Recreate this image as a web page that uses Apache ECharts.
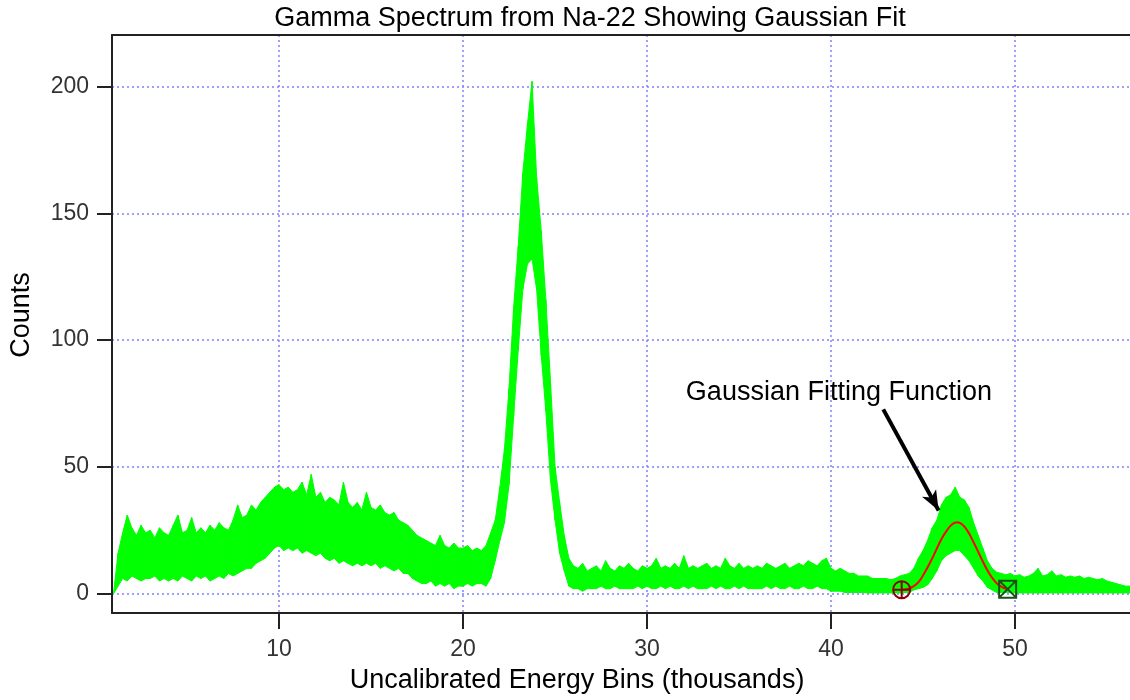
<!DOCTYPE html>
<html><head><meta charset="utf-8">
<script src="https://cdn.jsdelivr.net/npm/echarts@6/dist/echarts.min.js"></script>
<style>html,body{margin:0;padding:0;background:#fff}#c{width:1130px;height:700px}</style>
</head><body><div id="c"></div>
<script>
// ---- data ----
const binStart = 1.0;   // thousands
const binStep = 0.25;   // thousands
// upper edge of the noisy spectrum band, one value per bin
const countsHigh = [
  0,16,24,31, 26,23,27,24, 25,22,26,24, 23,27,31,24, 25,30,24,26,
  24,27,25,28, 26,25,29,35, 30,31,35,33, 36,38,40,42, 43,41,42,40,
  41,44,39,47, 38,40,36,38, 37,35,44,36, 34,36,33,40, 34,33,35,32,
  31,32,29,28, 27,25,23,22, 21,20,19,23, 19,18,20,18, 18,19,17,18,
  17,19,24,29, 42,57,81,113, 137,166,185,202, 164,143,116,84, 50,36,23,14,
  11,10,12,9, 10,11,9,13, 10,9,11,10, 12,10,9,11, 10,11,14,10,
  11,10,12,10, 15,10,11,10, 11,12,10,11, 10,14,11,10, 12,10,11,10,
  11,10,12,11, 10,11,12,10, 11,12,11,13, 12,11,13,14, 10,9,10,9,
  8,8,7,7, 7,6,6,6, 6,5.5,6,7, 7.5,8,10,14, 17,21,26,29,
  35,38,39,42, 38,37,34,28, 23,18,13,10, 8.5,8,7.5,8, 7,7.5,6.5,7,
  8,10,7,7.5, 9,7,7.5,6.5, 7,6.5,7,6, 6.5,6,5.5,6, 5,4.5,4,3.5,
  3,3
];
// lower edge of the noisy spectrum band
const countsLow = [
  0,3,6,5, 7,6,5,6, 6,7,5,6, 5,6,5,7, 6,5,7,6,
  7,5,6,7, 6,8,7,8, 9,10,10,12, 13,14,16,18, 19,17,18,17,
  18,16,17,16, 15,16,14,13, 14,12,13,12, 11,12,11,12, 11,12,10,11,
  10,9,10,8, 8,6,5,4, 4,5,3,4, 3,4,2,3, 3,4,3,4,
  4,3,6,13, 21,28,43,70, 96,120,130,132, 120,94,72,45, 29,16,9,3,
  2,2,1,2, 2,2,3,2, 2,3,2,2, 2,2,3,2, 3,2,2,3,
  2,3,2,2, 3,2,3,2, 2,2,3,2, 3,2,2,3, 2,3,2,2,
  2,2,3,2, 3,2,2,3, 2,2,3,2, 2,3,2,2, 1,1,1,0.5,
  0.5,0.5,0.5,0.5, 0.3,0.3,0.3,0.3, 0.3,0.3,0.3,0.3, 0.5,0.5,1.5,2, 2.5,3.5,6,9,
  13,15,16,17, 17,15,13,10, 7,5,2.5,1.5, 0.5,0.5,0.5,0.5, 0.3,0.3,0.3,0.3,
  0.3,0.3,0.3,0.3, 0.3,0.3,0.3,0.3, 0.3,0.3,0.3,0.3, 0.3,0.3,0.3,0.3, 0.3,0.3,0.3,0.3,
  0.3,0.3
];
// Gaussian fit curve (red)
const fitX = [43.84,44.2,44.5,44.8,45.1,45.4,45.7,46.0,46.3,46.6,46.85,47.1,47.4,47.7,48.0,48.3,48.6,48.9,49.2,49.6];
const fitY = [1.6,2.0,3.0,5.0,8.5,12.5,17,21.5,25,27.5,28.2,27.5,25,21,16.5,12,8,5,3,1.8];
// fit cursors
const cursorA = [43.84, 1.6];
const cursorB = [49.6, 1.8];
// axes
const xTicks = [10, 20, 30, 40, 50];
const yTicks = [0, 50, 100, 150, 200];
const xRange = [0.92, 56.25];
const yRange = [-7.6, 220.3];
// texts
const titleText = 'Gamma Spectrum from Na-22 Showing Gaussian Fit';
const xName = 'Uncalibrated Energy Bins (thousands)';
const yName = 'Counts';
const noteText = 'Gaussian Fitting Function';
const notePos = [40.43, 79.5];
const arrowFrom = [42.84, 72.7];
const arrowTo = [45.85, 32.8];

// ---- build ----
const FONT = 'Arial, "Liberation Sans", sans-serif';
const GREEN = '#00ff00';
const bins = countsHigh.map((_, i) => +(binStart + i * binStep).toFixed(2));
const bandData = bins.map((x, i) => [x, countsLow[i], countsHigh[i]]);
const fitData = fitX.map((x, i) => [x, fitY[i]]);

const gridLine = { show: true, lineStyle: { color: '#8080ff', width: 1.5, type: [2, 3] } };
const axisLineStyle = { color: '#222', width: 2 };

function renderBand(params, api) {
  const i = params.dataIndex;
  if (i >= bandData.length - 1) return null;
  const a = bandData[i], b = bandData[i + 1];
  const pts = [
    api.coord([a[0], a[2]]), api.coord([b[0], b[2]]),
    api.coord([b[0], b[1]]), api.coord([a[0], a[1]])
  ];
  return {
    type: 'polygon',
    shape: { points: pts },
    style: { fill: GREEN, stroke: GREEN, lineWidth: 1 }
  };
}

const chart = echarts.init(document.getElementById('c'), null, { renderer: 'canvas' });
chart.setOption({
  animation: false,
  backgroundColor: '#fff',
  grid: { left: 112, right: 0, top: 35, bottom: 87, containLabel: false },
  xAxis: [
    {
      type: 'value', min: xRange[0], max: xRange[1], position: 'bottom',
      axisLine: { show: true, onZero: false, lineStyle: axisLineStyle },
      axisTick: { show: true, length: 16, customValues: xTicks, lineStyle: axisLineStyle },
      axisLabel: { customValues: xTicks, fontSize: 23, color: '#333', margin: 25, fontFamily: FONT },
      splitLine: gridLine
    },
    {
      type: 'value', min: xRange[0], max: xRange[1], position: 'top',
      axisLine: { show: true, onZero: false, lineStyle: axisLineStyle },
      axisTick: { show: false }, axisLabel: { show: false }, splitLine: { show: false }
    }
  ],
  yAxis: {
    type: 'value', min: yRange[0], max: yRange[1],
    axisLine: { show: true, onZero: false, lineStyle: axisLineStyle },
    axisTick: { show: true, length: 15, customValues: yTicks, lineStyle: axisLineStyle },
    axisLabel: { customValues: yTicks, fontSize: 23, color: '#333', margin: 23, fontFamily: FONT },
    splitLine: gridLine
  },
  graphic: [
    { type: 'text', x: 590, y: 19, style: { text: titleText, font: '27px ' + FONT, fill: '#000', align: 'center', verticalAlign: 'middle' } },
    { type: 'text', x: 577, y: 681, style: { text: xName, font: '27px ' + FONT, fill: '#000', align: 'center', verticalAlign: 'middle' } },
    { type: 'text', x: 22, y: 315, rotation: Math.PI / 2, style: { text: yName, font: '27px ' + FONT, fill: '#000', align: 'center', verticalAlign: 'middle' } }
  ],
  series: [
    {
      type: 'custom', coordinateSystem: 'cartesian2d', data: bandData,
      encode: { x: 0, y: [1, 2] }, renderItem: renderBand, clip: true, silent: true, z: 2
    },
    {
      type: 'line', data: fitData, smooth: true, symbol: 'none', silent: true,
      lineStyle: { color: '#ff0000', width: 2 }, z: 3,
      markLine: {
        silent: true, animation: false,
        symbol: ['none', 'arrow'], symbolSize: [12, 20],
        lineStyle: { color: '#000', width: 4, type: 'solid' },
        label: { show: false },
        data: [[{ coord: arrowFrom }, { coord: arrowTo }]]
      },
      markPoint: {
        silent: true, animation: false,
        data: [{ coord: notePos, symbol: 'circle', symbolSize: 1,
          itemStyle: { color: 'rgba(0,0,0,0)' },
          label: { show: true, position: 'inside', formatter: noteText, color: '#000', fontSize: 27, fontFamily: FONT } }]
      }
    },
    {
      type: 'scatter', data: [cursorA], silent: true, z: 4,
      symbol: 'path://M10 0A10 10 0 1 1 -10 0A10 10 0 1 1 10 0ZM-10 0L10 0M0 -10L0 10',
      symbolSize: 17,
      itemStyle: { color: 'rgba(0,0,0,0)', borderColor: '#8b0000', borderWidth: 2, opacity: 1 }
    },
    {
      type: 'scatter', data: [cursorB], silent: true, z: 4,
      symbol: 'path://M-10 -10L10 -10L10 10L-10 10ZM-10 -10L10 10M10 -10L-10 10',
      symbolSize: 17,
      itemStyle: { color: 'rgba(0,0,0,0)', borderColor: '#1a4f1a', borderWidth: 2, opacity: 1 }
    }
  ]
});
</script></body></html>
